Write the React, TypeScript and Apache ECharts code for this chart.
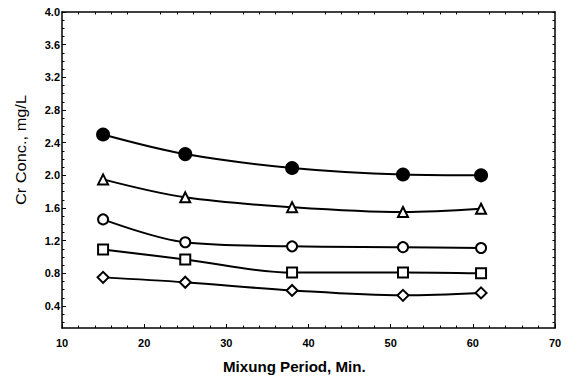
import React, { useEffect, useRef } from "react";
import * as echarts from "echarts";

const mixingMinutes = [15, 25, 38, 51.5, 61];
const filledCircle = [2.5, 2.26, 2.09, 2.01, 2.0];
const triangle = [1.95, 1.73, 1.61, 1.55, 1.59];
const openCircle = [1.46, 1.18, 1.13, 1.12, 1.11];
const square = [1.09, 0.97, 0.81, 0.81, 0.8];
const diamond = [0.75, 0.69, 0.59, 0.53, 0.56];

const yTickValues = [0.4, 0.8, 1.2, 1.6, 2.0, 2.4, 2.8, 3.2, 3.6, 4.0];
const yMinorValues = Array.from({ length: 39 }, (_, i) => Math.round((0.2 + i * 0.1) * 10) / 10);
const xMinorValues = [12, 14, 16, 18, 22, 24, 26, 28, 32, 34, 36, 38, 42, 44, 46, 48, 52, 54, 56, 58, 62, 64, 66, 68];

const xTitle = "Mixung Period, Min.";
const yTitle = "Cr Conc., mg/L";

const FONT = "'Liberation Sans', Arial, sans-serif";

export default function App() {
  const ref = useRef<HTMLDivElement>(null);
  useEffect(() => {
    const chart = echarts.init(ref.current!, null, { renderer: "svg" });
    const mk = (name: string, data: number[], symbol: string, size: number, filled: boolean) => ({
      type: "line",
      name,
      xAxisIndex: 0,
      yAxisIndex: 0,
      data: mixingMinutes.map((x, i) => [x, data[i]]),
      smooth: 0.35,
      symbol,
      symbolSize: size,
      showAllSymbol: true,
      lineStyle: { color: "#000", width: 2 },
      itemStyle: { color: filled ? "#000" : "#fff", borderColor: "#000", borderWidth: 2 },
      z: 3,
    });
    const line = { show: true, lineStyle: { color: "#000", width: 1.5 } };
    chart.setOption({
      animation: false,
      backgroundColor: "#fff",
      grid: { left: 62, right: 31, top: 12, bottom: 52 },
      xAxis: [
        {
          type: "value", min: 10, max: 70, interval: 10,
          axisLine: { ...line, onZero: false },
          axisTick: { show: true, inside: true, length: 4, lineStyle: { color: "#000" } },
          axisLabel: { color: "#000", fontFamily: FONT, fontWeight: "bold", fontSize: 11, margin: 9 },
          splitLine: { show: false },
        },
        {
          type: "value", min: 10, max: 70, position: "bottom",
          axisLine: { show: false },
          axisTick: { show: true, inside: true, length: 2.5, customValues: xMinorValues, lineStyle: { color: "#000" } },
          axisLabel: { show: false }, splitLine: { show: false },
        },
        {
          type: "value", min: 10, max: 70, position: "top",
          axisLine: { ...line, onZero: false },
          axisTick: { show: true, inside: true, length: 2.5, customValues: xMinorValues, lineStyle: { color: "#000" } },
          axisLabel: { show: false }, splitLine: { show: false },
        },
      ],
      yAxis: [
        {
          type: "value", min: 0.13, max: 4.0,
          axisLine: { ...line, onZero: false },
          axisTick: { show: true, inside: true, length: 4, customValues: yTickValues, lineStyle: { color: "#000" } },
          axisLabel: {
            customValues: yTickValues, color: "#000", fontFamily: FONT, fontWeight: "bold", fontSize: 11,
            margin: 2, formatter: (v: number) => v.toFixed(1),
          },
          splitLine: { show: false },
        },
        {
          type: "value", min: 0.13, max: 4.0, position: "left",
          axisLine: { show: false },
          axisTick: { show: true, inside: true, length: 2.5, customValues: yMinorValues, lineStyle: { color: "#000" } },
          axisLabel: { show: false }, splitLine: { show: false },
        },
        {
          type: "value", min: 0.13, max: 4.0, position: "right",
          axisLine: { ...line, onZero: false },
          axisTick: { show: true, inside: true, length: 2.5, customValues: yMinorValues, lineStyle: { color: "#000" } },
          axisLabel: { show: false }, splitLine: { show: false },
        },
      ],
      graphic: [
        {
          type: "text", x: 223, y: 367, scaleX: 1.08,
          style: { text: xTitle, fill: "#000", font: `bold 14px ${FONT}`, textAlign: "left", textVerticalAlign: "middle" },
        },
        {
          type: "text", x: 21, y: 150, rotation: Math.PI / 2, scaleX: 1.17,
          style: { text: yTitle, fill: "#000", font: `14px ${FONT}`, textAlign: "center", textVerticalAlign: "middle" },
        },
      ],
      series: [
        mk("filled circle", filledCircle, "circle", 12, true),
        mk("triangle", triangle, "triangle", 10, false),
        mk("open circle", openCircle, "circle", 10, false),
        mk("square", square, "rect", 10, false),
        mk("diamond", diamond, "diamond", 11, false),
      ],
    });
    return () => chart.dispose();
  }, []);
  return <div ref={ref} style={{ width: 586, height: 380, position: "absolute", left: 0, top: 0 }} />;
}
